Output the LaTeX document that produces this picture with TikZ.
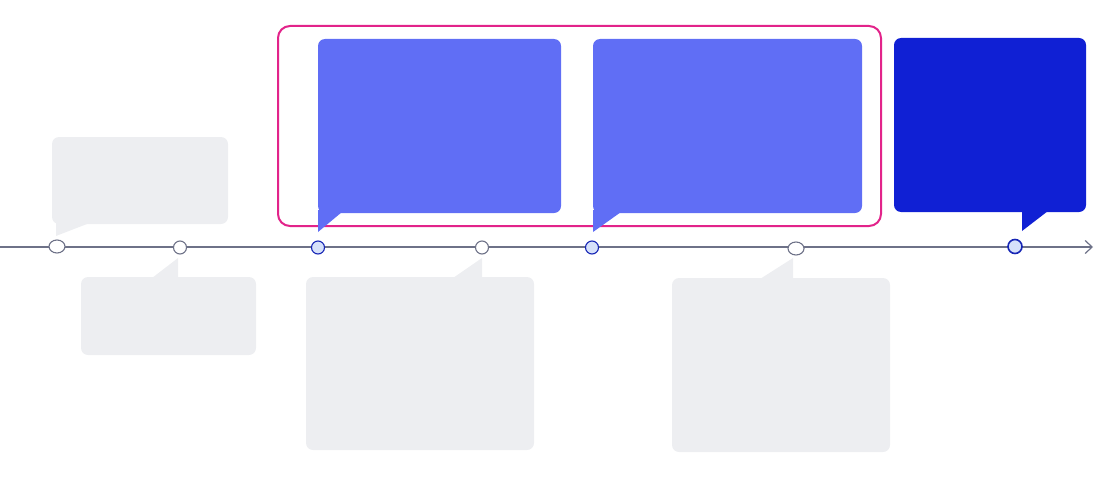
\documentclass[tikz,border=0pt]{standalone}
\usepackage{tikz}
\usetikzlibrary{arrows.meta}
\usetikzlibrary{shapes.geometric}

\definecolor{axisgray}{HTML}{6E7288}
\definecolor{cardgray}{HTML}{EDEEF1}
\definecolor{cardblue}{HTML}{606EF5}
\definecolor{carddark}{HTML}{1020D4}
\definecolor{framepink}{HTML}{E2238A}
\definecolor{dotblue}{HTML}{1726B5}
\definecolor{dotfill}{HTML}{D6E1FA}

\begin{document}
\begin{tikzpicture}[x=1pt,y=-1pt,
		card/.style={rectangle,rounded corners=7pt,inner sep=0pt},
		graycard/.style={card,fill=cardgray},
		bluecard/.style={card,fill=cardblue},
		darkcard/.style={card,fill=carddark},
		dot/.style={circle,draw=axisgray,fill=white,line width=1.1pt,inner sep=0pt,minimum size=13pt},
		bluedot/.style={dot,draw=dotblue,fill=dotfill}]
				
				\useasboundingbox (0,0) rectangle (1100,495);
				
				\node[rectangle,draw=framepink,line width=2pt,rounded corners=12pt,minimum width=603pt,minimum height=200pt] (focus) at (579.5,126) {};
				
				\node[graycard,minimum width=176pt,minimum height=87pt] (g1) at (140,180.5) {};
				\node[graycard,minimum width=175pt,minimum height=78pt] (g2) at (168.5,316) {};
				\node[graycard,minimum width=228pt,minimum height=173pt] (g3) at (420,363.5) {};
				\node[graycard,minimum width=218pt,minimum height=174pt] (g4) at (781,365) {};
				\node[bluecard,minimum width=243pt,minimum height=174pt] (b1) at (439.5,126) {};
				\node[bluecard,minimum width=269pt,minimum height=174pt] (b2) at (727.5,126) {};
				\node[darkcard,minimum width=192pt,minimum height=174pt] (b3) at (990,125) {};
				
				\fill[cardgray] (56,222) -- (56,236) -- (87,224) -- cycle;
				\fill[cardgray] (152,278) -- (178,258) -- (178,278) -- cycle;
				\fill[cardgray] (453,278) -- (482,258) -- (482,278) -- cycle;
				\fill[cardgray] (760,279) -- (793,258) -- (793,279) -- cycle;
				\fill[cardblue] (318,210) -- (318,232) -- (342,212) -- cycle;
				\fill[cardblue] (593,210) -- (593,232) -- (621,212) -- cycle;
				\fill[carddark] (1022,211) -- (1022,231) -- (1048,211) -- cycle;
				
				\coordinate (start) at (0,247);
				\coordinate (end) at (1093,247);
				\draw[axisgray,line width=1.2pt,-{Straight Barb[length=7pt,width=13pt]}] (start) -- (end);
				
				\node[dot,ellipse,minimum width=16pt,minimum height=13pt] (m1) at (57,246.5) {};
				\node[dot] (m2) at (180,247.5) {};
				\node[bluedot] (m3) at (318,247.5) {};
				\node[dot] (m4) at (482,247.5) {};
				\node[bluedot] (m5) at (592,247.5) {};
				\node[dot,ellipse,minimum width=16pt,minimum height=13pt] (m6) at (796,248.5) {};
				\node[bluedot,line width=1.6pt,minimum size=14pt] (m7) at (1015,246.5) {};
				
			\end{tikzpicture}
\end{document}
